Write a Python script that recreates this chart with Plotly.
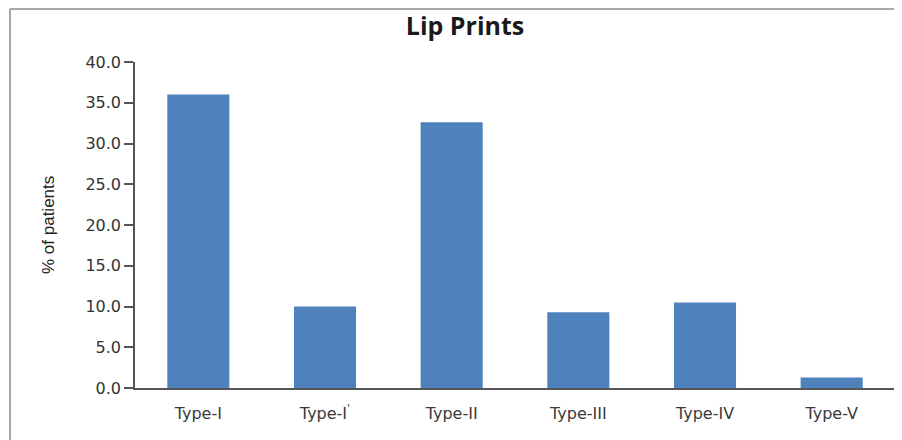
import plotly.graph_objects as go

categories = ["Type-I", "Type-I'", "Type-II", "Type-III", "Type-IV", "Type-V"]
categories_display = ["Type-I", "Type-I<sup>'</sup>", "Type-II", "Type-III", "Type-IV", "Type-V"]
values = [36.0, 10.0, 32.6, 9.3, 10.5, 1.3]
y_ticks = [0, 5, 10, 15, 20, 25, 30, 35, 40]

# the page body adds an 8px offset; layout numbers are in figure pixels
W, H = 902, 440
ML, MR, MT, MB = 127, 15, 54, 60
PW, PH = W - ML - MR, H - MT - MB

def px_x(p):
    return (p - ML) / PW

def px_y(p):
    return (H - MB - p) / PH

fig = go.Figure(go.Bar(
    x=categories,
    y=values,
    marker=dict(color="#4F81BD", line=dict(width=0)),
    hoverinfo="x+y",
))

fig.update_layout(
    width=W, height=H,
    margin=dict(l=ML, r=MR, t=MT, b=MB),
    paper_bgcolor="white",
    plot_bgcolor="white",
    bargap=0.51,
    showlegend=False,
    title=dict(
        text="<b>Lip Prints</b>",
        x=457 / W, xref="container", xanchor="center",
        y=1 - 18 / H, yref="container", yanchor="middle",
        font=dict(family="Open Sans", size=25, color="#1a1a1a"),
    ),
    font=dict(family="DejaVu Sans", color="#333333"),
)

fig.update_xaxes(
    type="category",
    tickvals=categories,
    ticktext=categories_display,
    showline=True, linecolor="#555555", linewidth=1.5,
    ticks="", showgrid=False, zeroline=False,
    tickfont=dict(family="DejaVu Sans", size=16, color="#3a3a3a"),
    ticklabelstandoff=10,
)

fig.update_yaxes(
    range=[0, 40],
    tickvals=y_ticks,
    ticktext=[f"{v:.1f}" for v in y_ticks],
    showline=True, linecolor="#555555", linewidth=1.5,
    ticks="outside", ticklen=9, tickcolor="#555555", tickwidth=1.5,
    showgrid=False, zeroline=False,
    tickfont=dict(family="DejaVu Sans", size=16, color="#333333"),
)

fig.add_annotation(
    text="% of patients",
    xref="paper", yref="paper",
    x=px_x(40), y=0.5,
    xanchor="center", yanchor="middle",
    textangle=-90, showarrow=False,
    font=dict(family="Liberation Sans", size=17, color="#222222"),
)

# right light border of plot area
fig.add_shape(type="line", xref="paper", yref="paper",
              x0=1, x1=1, y0=0, y1=1,
              line=dict(color="#cfcfcf", width=2))
# outer frame (top and left)
fig.add_shape(type="line", xref="paper", yref="paper",
              x0=px_x(2), x1=px_x(910), y0=px_y(1), y1=px_y(1),
              line=dict(color="#a8a8a8", width=2))
fig.add_shape(type="line", xref="paper", yref="paper",
              x0=px_x(2), x1=px_x(2), y0=px_y(1), y1=px_y(450),
              line=dict(color="#a8a8a8", width=2))

fig.write_html("out.html")
